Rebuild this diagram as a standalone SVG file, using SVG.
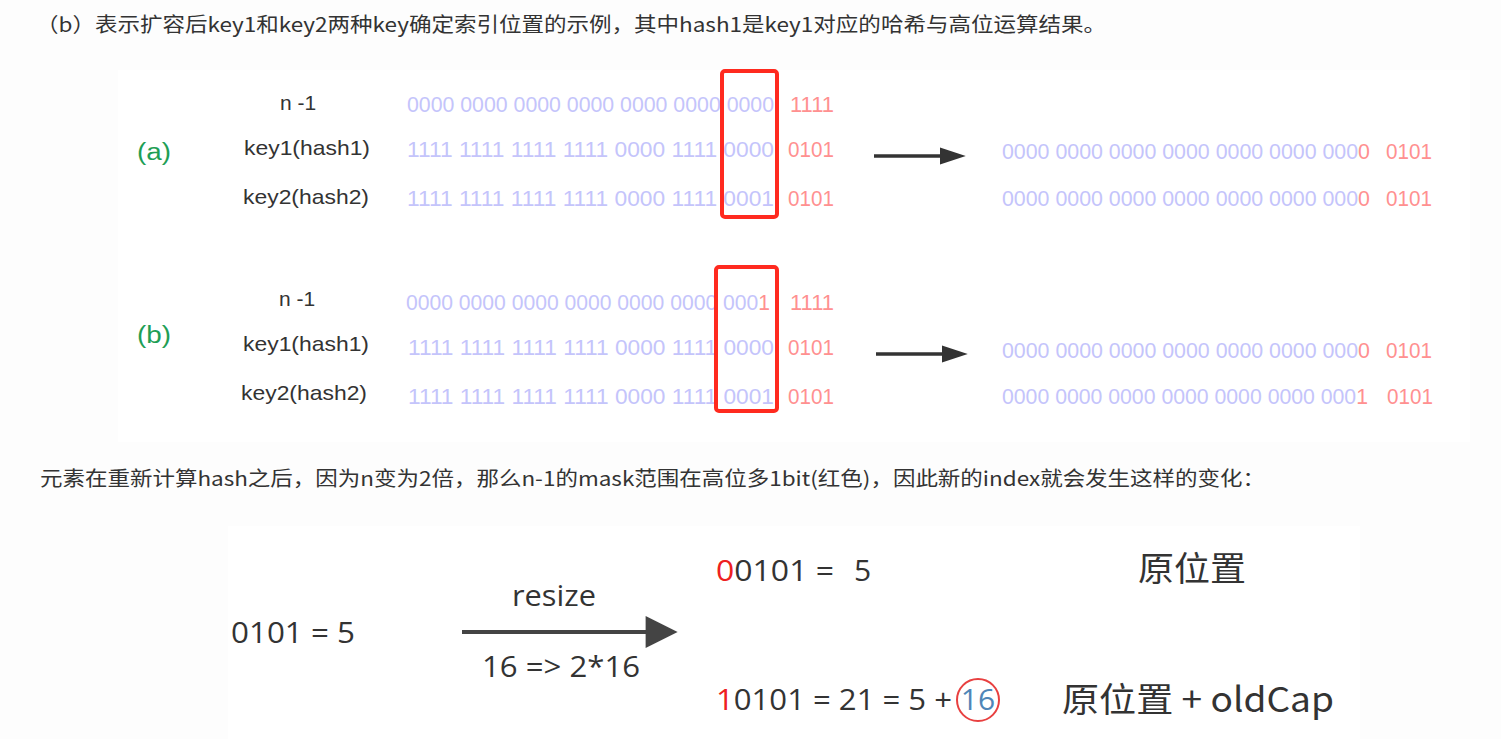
<svg xmlns="http://www.w3.org/2000/svg" width="1501" height="739" viewBox="0 0 1501 739">
<defs>
<style>
.cap{font-family:"Noto Sans CJK SC","Liberation Sans",sans-serif;font-size:20px;fill:#333}
.lbl{font-family:"Liberation Sans","DejaVu Sans",sans-serif;font-size:21px;fill:#333}
.grn{font-family:"Liberation Sans",sans-serif;font-size:23px;fill:#1e9e55}
.blu{font-family:"Liberation Sans",sans-serif;font-size:22px;fill:#c4c4fb}
.red{font-family:"Liberation Sans",sans-serif;font-size:22px;fill:#ff9090}
.rb{fill:#ff9090}
.box{fill:none;stroke:#ff2a1f;stroke-width:4}
.big{font-family:"Open Sans","Liberation Sans",sans-serif;font-size:30px;fill:#333}
.cjk{font-family:"Noto Sans CJK SC",sans-serif;font-size:34px;fill:#333}
</style>
<marker id="ah" viewBox="0 0 15 10" refX="2" refY="5" markerWidth="7.5" markerHeight="5" orient="auto" markerUnits="strokeWidth"><path d="M0,0 L15,5 L0,10 z" fill="#333"/></marker>
<marker id="ah2" viewBox="0 0 10 10" refX="2" refY="5" markerWidth="9" markerHeight="8" orient="auto" markerUnits="strokeWidth"><path d="M0,0 L10,5 L0,10 z" fill="#444"/></marker>
</defs>
<rect width="1501" height="739" fill="#fdfdfd"/>
<rect x="118" y="70" width="1352" height="372" fill="#ffffff"/>
<rect x="228" y="526" width="1132" height="213" fill="#ffffff"/>

<text id="title" class="cap" x="36" y="32" textLength="1070" lengthAdjust="spacingAndGlyphs">（b）表示扩容后key1和key2两种key确定索引位置的示例，其中hash1是key1对应的哈希与高位运算结果。</text>

<g id="fig-a">
<text class="grn" x="137" y="160" textLength="34" lengthAdjust="spacingAndGlyphs">(a)</text>
<text class="lbl" x="298" y="110" text-anchor="middle">n -1</text>
<text class="lbl" x="244" y="155" textLength="126" lengthAdjust="spacingAndGlyphs">key1(hash1)</text>
<text class="lbl" x="243" y="204" textLength="126" lengthAdjust="spacingAndGlyphs">key2(hash2)</text>
<text class="blu" x="407" y="112" textLength="367" lengthAdjust="spacingAndGlyphs">0000 0000 0000 0000 0000 0000 0000</text>
<text class="red" x="790" y="112" textLength="44" lengthAdjust="spacingAndGlyphs">1111</text>
<text class="blu" x="407" y="157" textLength="367" lengthAdjust="spacingAndGlyphs">1111 1111 1111 1111 0000 1111 0000</text>
<text class="red" x="788" y="157" textLength="46" lengthAdjust="spacingAndGlyphs">0101</text>
<text class="blu" x="407" y="206" textLength="367" lengthAdjust="spacingAndGlyphs">1111 1111 1111 1111 0000 1111 0001</text>
<text class="red" x="788" y="206" textLength="46" lengthAdjust="spacingAndGlyphs">0101</text>
<rect class="box" x="722" y="71" width="55" height="146" rx="3"/>
<text class="blu" x="1002" y="159" textLength="368" lengthAdjust="spacingAndGlyphs">0000 0000 0000 0000 0000 0000 000<tspan class="rb">0</tspan></text>
<text class="red" x="1386" y="159" textLength="46" lengthAdjust="spacingAndGlyphs">0101</text>
<text class="blu" x="1002" y="206" textLength="368" lengthAdjust="spacingAndGlyphs">0000 0000 0000 0000 0000 0000 000<tspan class="rb">0</tspan></text>
<text class="red" x="1386" y="206" textLength="46" lengthAdjust="spacingAndGlyphs">0101</text>
</g>

<g id="fig-b">
<text class="grn" x="137" y="343" textLength="34" lengthAdjust="spacingAndGlyphs">(b)</text>
<text class="lbl" x="297" y="306" text-anchor="middle">n -1</text>
<text class="lbl" x="243" y="351" textLength="126" lengthAdjust="spacingAndGlyphs">key1(hash1)</text>
<text class="lbl" x="241" y="400" textLength="126" lengthAdjust="spacingAndGlyphs">key2(hash2)</text>
<text class="blu" x="406" y="310" textLength="364" lengthAdjust="spacingAndGlyphs">0000 0000 0000 0000 0000 0000 000<tspan class="rb">1</tspan></text>
<text class="red" x="790" y="310" textLength="44" lengthAdjust="spacingAndGlyphs">1111</text>
<text class="blu" x="408" y="355" textLength="366" lengthAdjust="spacingAndGlyphs">1111 1111 1111 1111 0000 1111 0000</text>
<text class="red" x="788" y="355" textLength="46" lengthAdjust="spacingAndGlyphs">0101</text>
<text class="blu" x="408" y="404" textLength="366" lengthAdjust="spacingAndGlyphs">1111 1111 1111 1111 0000 1111 0001</text>
<text class="red" x="788" y="404" textLength="46" lengthAdjust="spacingAndGlyphs">0101</text>
<rect class="box" x="716" y="267" width="61" height="144" rx="3"/>
<text class="blu" x="1002" y="358" textLength="368" lengthAdjust="spacingAndGlyphs">0000 0000 0000 0000 0000 0000 000<tspan class="rb">0</tspan></text>
<text class="red" x="1386" y="358" textLength="46" lengthAdjust="spacingAndGlyphs">0101</text>
<text class="blu" x="1002" y="404" textLength="366" lengthAdjust="spacingAndGlyphs">0000 0000 0000 0000 0000 0000 000<tspan class="rb">1</tspan></text>
<text class="red" x="1387" y="404" textLength="46" lengthAdjust="spacingAndGlyphs">0101</text>
</g>

<text id="caption" class="cap" x="40" y="486" textLength="1225" lengthAdjust="spacingAndGlyphs">元素在重新计算hash之后，因为n变为2倍，那么n-1的mask范围在高位多1bit(红色)，因此新的index就会发生这样的变化：</text>

<g id="resize-src">
<text class="big" x="231" y="643" textLength="124" lengthAdjust="spacingAndGlyphs">0101 = 5</text>
</g>
<g id="resize-label">
<text class="big" x="512" y="606" textLength="84" lengthAdjust="spacingAndGlyphs">resize</text>
<text class="big" x="482" y="677" textLength="158" lengthAdjust="spacingAndGlyphs">16 =&gt; 2*16</text>
</g>
<g id="res1">
<text class="big" x="716" y="581" textLength="118" lengthAdjust="spacingAndGlyphs"><tspan fill="#ee2020">0</tspan>0101 =</text>
<text class="big" x="854" y="581">5</text>
<text class="cjk" x="1138" y="581" textLength="108" lengthAdjust="spacingAndGlyphs">原位置</text>
</g>
<g id="res2">
<text class="big" x="716" y="710" textLength="236" lengthAdjust="spacingAndGlyphs"><tspan fill="#ee2020">1</tspan>0101 = 21 = 5 +</text>
<circle cx="978" cy="700" r="21" fill="none" stroke="#e84040" stroke-width="2"/>
<text class="big" x="978" y="710" text-anchor="middle" style="fill:#4f86b8">16</text>
<text class="cjk" x="1062" y="712" textLength="272" lengthAdjust="spacingAndGlyphs">原位置 + oldCap</text>
</g>

<g id="connectors">
<line x1="874" y1="156" x2="943" y2="156" stroke="#333" stroke-width="3.5" marker-end="url(#ah)"/>
<line x1="876" y1="354" x2="945" y2="354" stroke="#333" stroke-width="3.5" marker-end="url(#ah)"/>
<line x1="462" y1="632" x2="652" y2="632" stroke="#444" stroke-width="4" marker-end="url(#ah2)"/>
</g>
</svg>
